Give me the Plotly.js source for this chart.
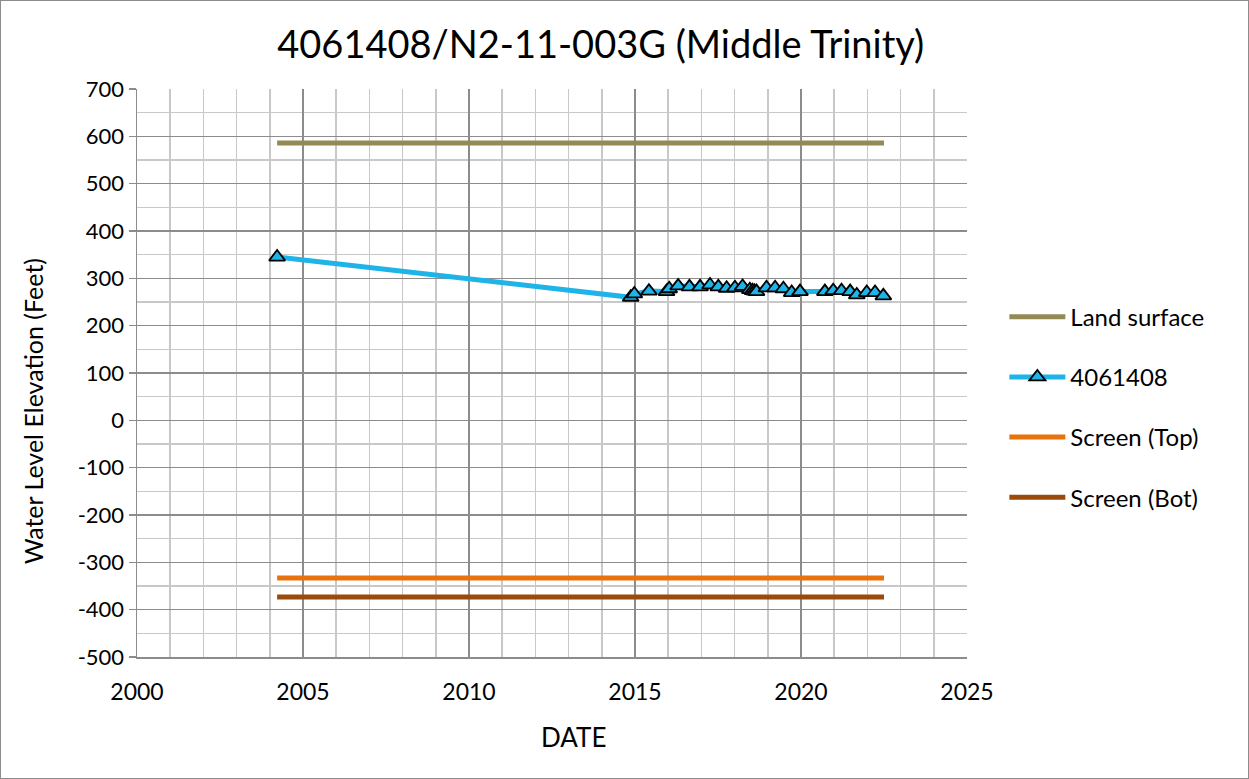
<!DOCTYPE html>
<html>
<head>
<meta charset="utf-8">
<script src="https://cdn.plot.ly/plotly-3.0.1.min.js"></script>
<style>
  html, body { margin: 0; padding: 0; background: #fff; }
  #chart { width: 1249px; height: 779px; position: relative; }
  #frame { position: absolute; left: 0; top: 0; width: 1247px; height: 777px; border: 1px solid #8c8c8c; pointer-events: none; }
</style>
</head>
<body>
<div id="chart"></div>
<div id="frame"></div>
<script>
// Land surface and screen levels
const refDates = [2004.22, 2022.5];
const landSurface = [586, 586];
const screenTop = [-333, -333];
const screenBot = [-373, -373];

// Well 4061408 measurements (decimal year, water level elevation in feet)
const wellDates = [2004.22, 2014.87, 2014.98, 2015.42, 2015.95, 2016.03, 2016.3, 2016.64, 2016.96, 2017.26,
  2017.51, 2017.76, 2018.01, 2018.24, 2018.46, 2018.54, 2018.6, 2018.66, 2018.96, 2019.22,
  2019.47, 2019.72, 2019.97, 2020.72, 2020.97, 2021.22, 2021.48, 2021.68, 2021.98, 2022.23, 2022.48];
const wellLevels = [345, 260, 267, 273, 272, 278, 284, 282, 282, 286,
  282, 279, 280, 283, 276, 274, 273, 272, 280, 280,
  278, 270, 272, 272, 274, 274, 272, 265, 270, 270, 263];

const xTicks = [2000, 2005, 2010, 2015, 2020, 2025];
const yTicks = [700, 600, 500, 400, 300, 200, 100, 0, -100, -200, -300, -400, -500];

const FONT = 'Lato, "Open Sans", sans-serif';

const traces = [
  { x: refDates, y: landSurface, name: 'Land surface', mode: 'lines', legendgroup: 'a',
    line: { color: '#948A54', width: 5 } },
  { x: wellDates, y: wellLevels, name: '4061408', mode: 'lines+markers', legendgroup: 'b',
    line: { color: '#1FB4E8', width: 5 },
    marker: { symbol: 'triangle-up', size: 14, color: '#1FB4E8', line: { color: '#000', width: 1.8 } } },
  { x: refDates, y: screenTop, name: 'Screen (Top)', mode: 'lines', legendgroup: 'c',
    line: { color: '#E8720C', width: 5 } },
  { x: refDates, y: screenBot, name: 'Screen (Bot)', mode: 'lines', legendgroup: 'd',
    line: { color: '#9A4B0C', width: 5 } }
];

const layout = {
  width: 1249, height: 779,
  margin: { l: 137, r: 282, t: 89, b: 122 },
  paper_bgcolor: '#fff', plot_bgcolor: '#fff',
  font: { family: FONT, color: '#000' },
  title: { text: '4061408/N2-11-003G (Middle Trinity)', font: { size: 38, family: FONT, color: '#000' },
    x: 0.481, xanchor: 'center', y: 0.943, yanchor: 'middle' },
  xaxis: {
    range: [2000, 2025], tickvals: xTicks, ticktext: xTicks.map(String),
    showgrid: true, gridcolor: '#8c8c8c', gridwidth: 1.5,
    minor: { dtick: 1, showgrid: true, gridcolor: '#c8c8c8', gridwidth: 1.5 },
    showline: true, linecolor: '#8c8c8c', linewidth: 1.5, mirror: false,
    ticks: '', ticklabelstandoff: 14, tickfont: { size: 23, family: FONT }, zeroline: false
  },
  yaxis: {
    range: [-500, 700], tickvals: yTicks, ticktext: yTicks.map(String),
    showgrid: true, gridcolor: '#8c8c8c', gridwidth: 1.5,
    minor: { dtick: 50, showgrid: true, gridcolor: '#c8c8c8', gridwidth: 1.5 },
    showline: true, linecolor: '#8c8c8c', linewidth: 1.5,
    ticks: 'outside', ticklen: 7, tickcolor: '#8c8c8c', tickwidth: 1.5,
    tickfont: { size: 22, family: FONT }, zeroline: false
  },
  annotations: [
    { text: 'DATE', xref: 'paper', yref: 'paper', x: 0.5265, y: -0.141, xanchor: 'center', yanchor: 'middle',
      showarrow: false, font: { size: 26, family: FONT, color: '#000' } },
    { text: 'Water Level Elevation (Feet)', xref: 'paper', yref: 'paper', x: -0.125, y: 0.433, textangle: -90,
      xanchor: 'center', yanchor: 'middle', showarrow: false, font: { size: 25, family: FONT, color: '#000' } }
  ],
  showlegend: true,
  legend: {
    x: 1.045, xanchor: 'left', y: 0.44, yanchor: 'middle',
    font: { size: 24, family: FONT }, traceorder: 'grouped', tracegroupgap: 26,
    itemwidth: 56, bgcolor: 'rgba(0,0,0,0)'
  }
};

Plotly.newPlot('chart', traces, layout, { displayModeBar: false, staticPlot: true });
</script>
</body>
</html>
